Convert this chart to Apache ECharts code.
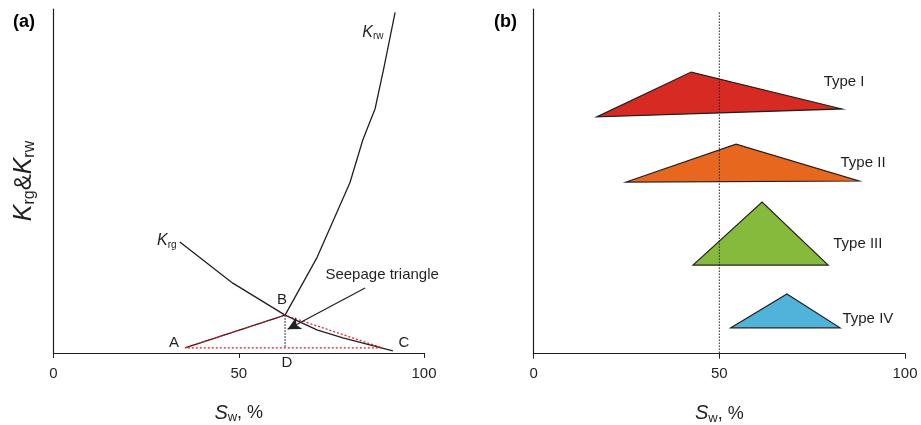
<!DOCTYPE html>
<html>
<head>
<meta charset="utf-8">
<script src="https://cdn.jsdelivr.net/npm/echarts@6/dist/echarts.min.js"></script>
<style>
  html, body { margin: 0; padding: 0; background: #fff; }
  #main { width: 921px; height: 425px; }
</style>
</head>
<body>
<div id="main"></div>
<script>
// x ticks for both panels
var xTicks = [0, 50, 100];

// panel (a): relative permeability curves [Sw, K]
var krw = [[35.5, 1.5], [62.5, 11], [71, 27.5], [80, 49.5], [83.5, 62], [86.8, 71], [89.2, 83], [92.2, 99]];
var krg = [[34.1, 32.3], [48.4, 20.3], [62.5, 11], [71.1, 6.7], [78.1, 4.4], [91.6, 0.6]];
// seepage triangle A-B-C, plus D under B
var seepA = [35.5, 1.5];
var seepB = [62.5, 11];
var seepC = [88.7, 1.5];
var seepD = [62.5, 1.5];
var arrowFrom = [84.1, 18.9];
var arrowTo = [63.2, 6.9];

// panel (b): triangle types, vertices [Sw, y]
var typeNames = ['Type I', 'Type II', 'Type III', 'Type IV'];
var typeColors = ['#d72a22', '#e8671f', '#86ba3d', '#4fb3da'];
var typeTris = [
  [[17.0, 68.7], [42.4, 81.7], [83.0, 71.0]],
  [[24.9, 49.8], [54.5, 60.8], [87.6, 50.1]],
  [[42.9, 25.7], [61.5, 44.0], [79.3, 25.7]],
  [[53.1, 7.5], [68.2, 17.3], [82.5, 7.5]]
];
var typeLabelPts = [[83.6, 78.8], [88.7, 55.3], [87.3, 31.8], [90.0, 10.1]];

// text anchors in panel (a)
var letterPts = [
  { name: 'A', value: [32.5, 2.9] },
  { name: 'B', value: [61.7, 15.4] },
  { name: 'C', value: [94.6, 2.9] },
  { name: 'D', value: [63.0, -2.9] },
  { name: 'Seepage triangle', value: [88.7, 22.7] }
];
var kLabelPts = [
  { name: '{k|K}{s|rg}', value: [30.6, 32.6] },
  { name: '{k|K}{s|rw}', value: [86.2, 93.3] }
];

var ink = '#231f20';
var font = 'Liberation Sans, Arial, sans-serif';

var swName = {
  i: { fontFamily: font, fontSize: 20, fontStyle: 'italic', color: ink, lineHeight: 22 },
  s: { fontFamily: font, fontSize: 13, color: ink, verticalAlign: 'bottom', lineHeight: 11 },
  n: { fontFamily: font, fontSize: 18, color: ink, lineHeight: 22 }
};

function xAxisOf(gi) {
  return {
    gridIndex: gi, type: 'value', min: 0, max: 100, interval: 50,
    axisLine: { lineStyle: { color: ink, width: 1.2 } },
    axisTick: { show: true, length: 5, lineStyle: { color: ink } },
    splitLine: { show: false },
    axisLabel: { color: ink, fontSize: 15, fontFamily: font, margin: 13,
      customValues: xTicks },
    name: '{i|S}{s|w}{n|, %}',
    nameLocation: 'middle', nameGap: 49,
    nameTextStyle: { rich: swName }
  };
}

var kRich = {
  k: { fontFamily: font, fontSize: 16, fontStyle: 'italic', color: ink, lineHeight: 18 },
  s: { fontFamily: font, fontSize: 10, color: ink, verticalAlign: 'bottom', lineHeight: 9 }
};

// invisible anchor, fully opaque so the label keeps its colour
var anchorStyle = { color: 'rgba(0,0,0,0)', opacity: 1 };

var chart = echarts.init(document.getElementById('main'));

chart.setOption({
  animation: false,
  backgroundColor: '#fff',
  title: [
    { text: '(a)', left: 8, top: 8, textStyle: { fontFamily: font, fontSize: 18, fontWeight: 'bold', color: '#000' } },
    { text: '(b)', left: 489, top: 8, textStyle: { fontFamily: font, fontSize: 18, fontWeight: 'bold', color: '#000' } }
  ],
  grid: [
    { left: 53.5, top: 9, width: 370.5, height: 344, outerBoundsMode: 'none' },
    { left: 533.7, top: 9, width: 371.3, height: 344.7, outerBoundsMode: 'none' }
  ],
  xAxis: [xAxisOf(0), xAxisOf(1)],
  yAxis: [
    {
      gridIndex: 0, type: 'value', min: 0, max: 100,
      axisLine: { show: true, lineStyle: { color: ink, width: 1.2 } },
      axisTick: { show: false }, axisLabel: { show: false }, splitLine: { show: false },
      name: '{k|K}{s|rg}{a|&}{k|K}{s|rw}',
      nameLocation: 'middle', nameGap: 16, nameRotate: 90,
      nameTextStyle: { rich: {
        k: { fontFamily: font, fontSize: 25, fontStyle: 'italic', color: ink, lineHeight: 27 },
        s: { fontFamily: font, fontSize: 16, color: ink, verticalAlign: 'bottom', lineHeight: 14 },
        a: { fontFamily: font, fontSize: 24, color: ink, lineHeight: 27 }
      } }
    },
    {
      gridIndex: 1, type: 'value', min: 0, max: 100,
      axisLine: { show: true, lineStyle: { color: ink, width: 1.2 } },
      axisTick: { show: false }, axisLabel: { show: false }, splitLine: { show: false }
    }
  ],
  series: [
    {
      name: 'Krw', type: 'line', xAxisIndex: 0, yAxisIndex: 0, data: krw,
      symbol: 'none', lineStyle: { color: ink, width: 1.3 }, z: 3
    },
    {
      name: 'Krg', type: 'line', xAxisIndex: 0, yAxisIndex: 0, data: krg,
      symbol: 'none', lineStyle: { color: ink, width: 1.3 }, z: 3
    },
    {
      name: 'seepage', type: 'line', xAxisIndex: 0, yAxisIndex: 0,
      data: [seepA, seepB, seepC, seepA],
      symbol: 'none', lineStyle: { color: '#e8141b', width: 1.2, type: [2, 2] }, z: 4
    },
    {
      name: 'BD', type: 'line', xAxisIndex: 0, yAxisIndex: 0,
      data: [seepB, seepD],
      symbol: 'none', lineStyle: { color: ink, width: 1.2, type: [1.5, 1.5] }, z: 4,
      markLine: {
        silent: true, symbol: ['none', 'arrow'], symbolSize: [10, 13],
        label: { show: false },
        lineStyle: { color: ink, width: 1.2, type: 'solid' },
        data: [[{ coord: arrowFrom }, { coord: arrowTo }]]
      }
    },
    {
      name: 'letters', type: 'scatter', xAxisIndex: 0, yAxisIndex: 0, clip: false,
      data: letterPts, symbolSize: 1, itemStyle: anchorStyle,
      label: { show: true, position: 'inside', formatter: '{b}', color: ink,
        fontFamily: font, fontSize: 15 }
    },
    {
      name: 'klabels', type: 'scatter', xAxisIndex: 0, yAxisIndex: 0, clip: false,
      data: kLabelPts, symbolSize: 1, itemStyle: anchorStyle,
      label: { show: true, position: 'inside', formatter: '{b}', rich: kRich }
    },
    {
      name: 'types', type: 'custom', xAxisIndex: 1, yAxisIndex: 1,
      data: typeTris.map(function (t, i) { return [t[1][0], t[1][1], i]; }),
      renderItem: function (params, api) {
        var idx = api.value(2);
        var pts = typeTris[idx].map(function (p) { return api.coord(p); });
        return {
          type: 'polygon',
          shape: { points: pts },
          style: { fill: typeColors[idx], stroke: ink, lineWidth: 1.2 }
        };
      },
      z: 2
    },
    {
      name: 'half', type: 'line', xAxisIndex: 1, yAxisIndex: 1,
      data: [[50, 99], [50, 0]],
      symbol: 'none', lineStyle: { color: ink, width: 1, type: [1.5, 1.5] }, z: 3
    },
    {
      name: 'typeLabels', type: 'scatter', xAxisIndex: 1, yAxisIndex: 1, clip: false,
      data: typeLabelPts.map(function (p, i) { return { name: typeNames[i], value: p }; }),
      symbolSize: 1, itemStyle: anchorStyle,
      label: { show: true, position: 'inside', formatter: '{b}', color: ink,
        fontFamily: font, fontSize: 15 }
    }
  ]
});
</script>
</body>
</html>
